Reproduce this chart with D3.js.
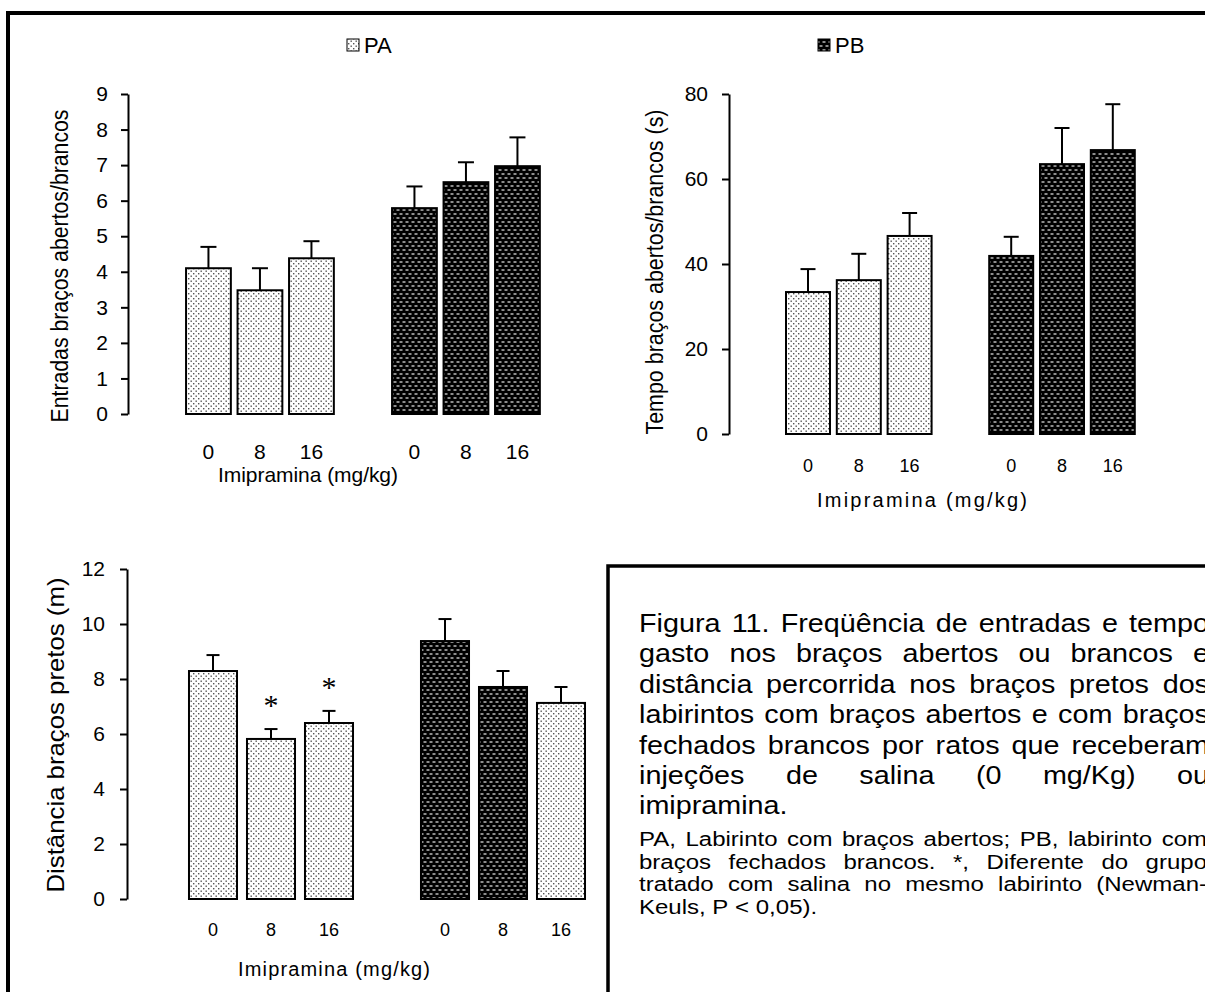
<!DOCTYPE html>
<html><head><meta charset="utf-8">
<script src="https://cdn.jsdelivr.net/npm/d3@7"></script>
<style>
html,body{margin:0;padding:0;background:#fff;}
svg{display:block;}
</style></head><body>
<svg id="fig" width="1205" height="992"></svg>
<script>
// ---------- DATA ----------
const doses = ["0", "8", "16"];
const mazes = ["PA", "PB"];
// Entradas braços abertos/brancos
const entriesMean = [4.1, 3.48, 4.38, 5.79, 6.52, 6.97];
const entriesErr  = [0.6, 0.62, 0.48, 0.61, 0.56, 0.81];
const entriesTicks = [0, 1, 2, 3, 4, 5, 6, 7, 8, 9];
// Tempo braços abertos/brancos (s)
const timeMean = [33.4, 36.2, 46.6, 41.9, 63.5, 66.8];
const timeErr  = [5.4, 6.2, 5.4, 4.5, 8.5, 10.8];
const timeTicks = [0, 20, 40, 60, 80];
// Distância braços pretos (m)
const distMean = [8.29, 5.82, 6.4, 9.38, 7.71, 7.13];
const distErr  = [0.58, 0.36, 0.44, 0.8, 0.58, 0.58];
const distTicks = [0, 2, 4, 6, 8, 10, 12];
const distSig = [false, true, true, false, false, false];
// maze group whose fill is used for each bar (as printed)
const standardGroups = ["PA", "PA", "PA", "PB", "PB", "PB"];
const distGroups = ["PA", "PA", "PA", "PB", "PB", "PA"];

const yTitles = ["Entradas braços abertos/brancos", "Tempo braços abertos/brancos (s)", "Distância braços pretos (m)"];
const xTitle = "Imipramina (mg/kg)";
const captionLines = [
  "Figura 11. Freqüência de entradas e tempo",
  "gasto nos braços abertos ou brancos e",
  "distância percorrida nos braços pretos dos",
  "labirintos com braços abertos e com braços",
  "fechados brancos por ratos que receberam",
  "injeções de salina (0 mg/Kg) ou",
  "imipramina."
];
const noteLines = [
  "PA, Labirinto com braços abertos; PB, labirinto com",
  "braços fechados brancos. *, Diferente do grupo",
  "tratado com salina no mesmo labirinto (Newman-",
  "Keuls, P < 0,05)."
];

// ---------- DRAWING ----------
const FONT = "'Liberation Sans', Arial, Helvetica, sans-serif";
const NARROW = "'Liberation Sans Narrow', 'Arial Narrow', 'Liberation Sans', Arial, sans-serif";
const svg = d3.select("#fig");
const defs = svg.append("defs");

// PA pattern: light dotted
const pa = defs.append("pattern").attr("id", "patPA").attr("patternUnits", "userSpaceOnUse")
  .attr("width", 5).attr("height", 5);
pa.append("rect").attr("width", 5).attr("height", 5).attr("fill", "#fff");
pa.append("rect").attr("x", 0.5).attr("y", 0.5).attr("width", 1.4).attr("height", 1.4).attr("fill", "#555");
pa.append("rect").attr("x", 3).attr("y", 3).attr("width", 1.4).attr("height", 1.4).attr("fill", "#555");
// PB pattern: black with light dashes
const pb = defs.append("pattern").attr("id", "patPB").attr("patternUnits", "userSpaceOnUse")
  .attr("width", 6).attr("height", 8);
pb.append("rect").attr("width", 6).attr("height", 8).attr("fill", "#000");
pb.append("rect").attr("x", 0.5).attr("y", 1.3).attr("width", 3).attr("height", 1.4).attr("fill", "#c8c8c8");
pb.append("rect").attr("x", 3.5).attr("y", 5.3).attr("width", 2.5).attr("height", 1.4).attr("fill", "#c8c8c8");
pb.append("rect").attr("x", 0).attr("y", 5.3).attr("width", 0.5).attr("height", 1.4).attr("fill", "#c8c8c8");

// frames
svg.append("path").attr("d", "M8,992V13H1210").attr("fill", "none").attr("stroke", "#000").attr("stroke-width", 4);
svg.append("path").attr("d", "M608,992V566H1210").attr("fill", "none").attr("stroke", "#000").attr("stroke-width", 3.5);

// legend
function legendItem(x, y, key) {
  svg.append("rect").attr("x", x).attr("y", y - 6).attr("width", 12).attr("height", 12)
    .attr("fill", `url(#pat${key})`).attr("stroke", "#000").attr("stroke-width", 1);
  svg.append("text").attr("x", x + 17).attr("y", y + 8).text(key)
    .style("font-family", FONT).style("font-size", "22px").attr("fill", "#000");
}
legendItem(347, 45, mazes[0]);
legendItem(818, 45, mazes[1]);

const cats = ["PA-0", "PA-8", "PA-16", "gap", "PB-0", "PB-8", "PB-16"];
const barCats = cats.filter(c => c !== "gap");

function chart(o) {
  const g = svg.append("g");
  const x = d3.scaleBand().domain(cats).range(o.xRange).paddingInner(o.pad).paddingOuter(o.pad / 2);
  const y = d3.scaleLinear().domain([0, o.yMax]).range(o.yRange);

  const ax = g.append("g").attr("transform", `translate(${o.axisX},0)`)
    .call(d3.axisLeft(y).tickValues(o.ticks).tickSize(7).tickSizeOuter(0).tickPadding(o.tickPad));
  ax.select(".domain").attr("stroke", "#000").attr("stroke-width", 2);
  ax.selectAll(".tick line").attr("stroke", "#000").attr("stroke-width", 2);
  ax.selectAll(".tick text").attr("fill", "#000").style("font-family", FONT).style("font-size", o.yTickSize + "px");

  const data = o.mean.map((m, i) => ({
    key: barCats[i], mean: m, err: o.err[i], grp: o.groups[i],
    sig: o.sig ? o.sig[i] : false, dose: doses[i % 3]
  }));

  // error bars (upper only)
  const eb = g.selectAll("g.eb").data(data).join("g");
  eb.append("line")
    .attr("x1", d => x(d.key) + x.bandwidth() / 2).attr("x2", d => x(d.key) + x.bandwidth() / 2)
    .attr("y1", d => y(d.mean)).attr("y2", d => y(d.mean + d.err))
    .attr("stroke", "#000").attr("stroke-width", 2);
  eb.append("line")
    .attr("x1", d => x(d.key) + x.bandwidth() / 2 - o.cap / 2).attr("x2", d => x(d.key) + x.bandwidth() / 2 + o.cap / 2)
    .attr("y1", d => y(d.mean + d.err)).attr("y2", d => y(d.mean + d.err))
    .attr("stroke", "#000").attr("stroke-width", 2);

  g.selectAll("rect.bar").data(data).join("rect").attr("class", "bar")
    .attr("x", d => x(d.key)).attr("width", x.bandwidth())
    .attr("y", d => y(d.mean)).attr("height", d => y(0) - y(d.mean))
    .attr("fill", d => `url(#pat${d.grp})`).attr("stroke", "#000").attr("stroke-width", 2);

  // significance
  g.selectAll("text.sig").data(data.filter(d => d.sig)).join("text")
    .attr("x", d => x(d.key) + x.bandwidth() / 2).attr("y", d => y(d.mean + d.err) - o.sigOffset)
    .attr("text-anchor", "middle").text("*")
    .style("font-family", "'Liberation Serif', 'Times New Roman', serif").style("font-size", "30px").attr("fill", "#000");

  // x tick labels
  g.selectAll("text.xt").data(data).join("text")
    .attr("x", d => x(d.key) + x.bandwidth() / 2).attr("y", o.xTickY + o.xTickSize * 0.36)
    .attr("text-anchor", "middle").text(d => d.dose)
    .style("font-family", FONT).style("font-size", o.xTickSize + "px").attr("fill", "#000");

  // x title
  g.append("text").attr("x", o.xTitleX).attr("y", o.xTitleY + o.xTitleSize * 0.36)
    .attr("text-anchor", "middle").text(xTitle)
    .attr("textLength", o.xTitleLen).attr("lengthAdjust", "spacing")
    .style("font-family", FONT).style("font-size", o.xTitleSize + "px").attr("fill", "#000");

  // y title
  g.append("text").attr("transform", `translate(${o.yTitleX},${o.yTitleY}) rotate(-90)`)
    .attr("text-anchor", "middle").attr("y", o.yTitleSize * 0.36).text(o.yTitle)
    .attr("textLength", o.yTitleLen).attr("lengthAdjust", "spacingAndGlyphs")
    .style("font-family", o.yTitleFont).style("font-size", o.yTitleSize + "px").attr("fill", "#000");
}

chart({
  mean: entriesMean, err: entriesErr, groups: standardGroups, ticks: entriesTicks, yMax: 9,
  yRange: [414, 94], xRange: [182.7, 543.2], pad: 0.13, axisX: 128, tickPad: 13, yTickSize: 21,
  cap: 16, xTickY: 451, xTickSize: 21, xTitleX: 308, xTitleY: 474, xTitleSize: 21, xTitleLen: 180,
  yTitle: yTitles[0], yTitleX: 60, yTitleY: 266, yTitleSize: 23, yTitleLen: 313, yTitleFont: NARROW
});
chart({
  mean: timeMean, err: timeErr, groups: standardGroups, ticks: timeTicks, yMax: 80,
  yRange: [434, 94], xRange: [782.6, 1138.2], pad: 0.134, axisX: 729, tickPad: 14, yTickSize: 21,
  cap: 15, xTickY: 466, xTickSize: 18, xTitleX: 922, xTitleY: 500, xTitleSize: 20, xTitleLen: 210,
  yTitle: yTitles[1], yTitleX: 655, yTitleY: 272, yTitleSize: 23, yTitleLen: 325, yTitleFont: NARROW
});
chart({
  mean: distMean, err: distErr, groups: distGroups, sig: distSig, ticks: distTicks, yMax: 12,
  yRange: [899, 569], xRange: [184, 590], pad: 0.172, axisX: 127, tickPad: 15, yTickSize: 21,
  cap: 13, sigOffset: 14, xTickY: 930, xTickSize: 18, xTitleX: 334, xTitleY: 969, xTitleSize: 20, xTitleLen: 192,
  yTitle: yTitles[2], yTitleX: 55, yTitleY: 735, yTitleSize: 24, yTitleLen: 315, yTitleFont: FONT
});

// caption (justified, glyphs slightly widened as in the scan)
function para(lines, x0, x1, yCenter0, lh, size, sx) {
  lines.forEach((line, li) => {
    const words = line.split(" ");
    const last = li === lines.length - 1;
    const yb = yCenter0 + li * lh + size * 0.36;
    const nodes = words.map(w => svg.append("text").attr("y", yb)
      .style("font-family", FONT).style("font-size", size + "px").attr("fill", "#000").text(w));
    const ws = nodes.map(n => n.node().getComputedTextLength() * sx);
    nodes.forEach((n, i) => n.attr("textLength", ws[i]).attr("lengthAdjust", "spacingAndGlyphs"));
    const total = d3.sum(ws);
    const gap = (last || words.length < 2) ? size * 0.278 * sx : (x1 - x0 - total) / (words.length - 1);
    let xx = x0;
    nodes.forEach((n, i) => { n.attr("x", xx); xx += ws[i] + gap; });
  });
}
para(captionLines, 639, 1209, 623, 30.4, 25, 1.15);
para(noteLines, 639, 1207, 839, 22.6, 20, 1.2);
</script>
</body></html>
